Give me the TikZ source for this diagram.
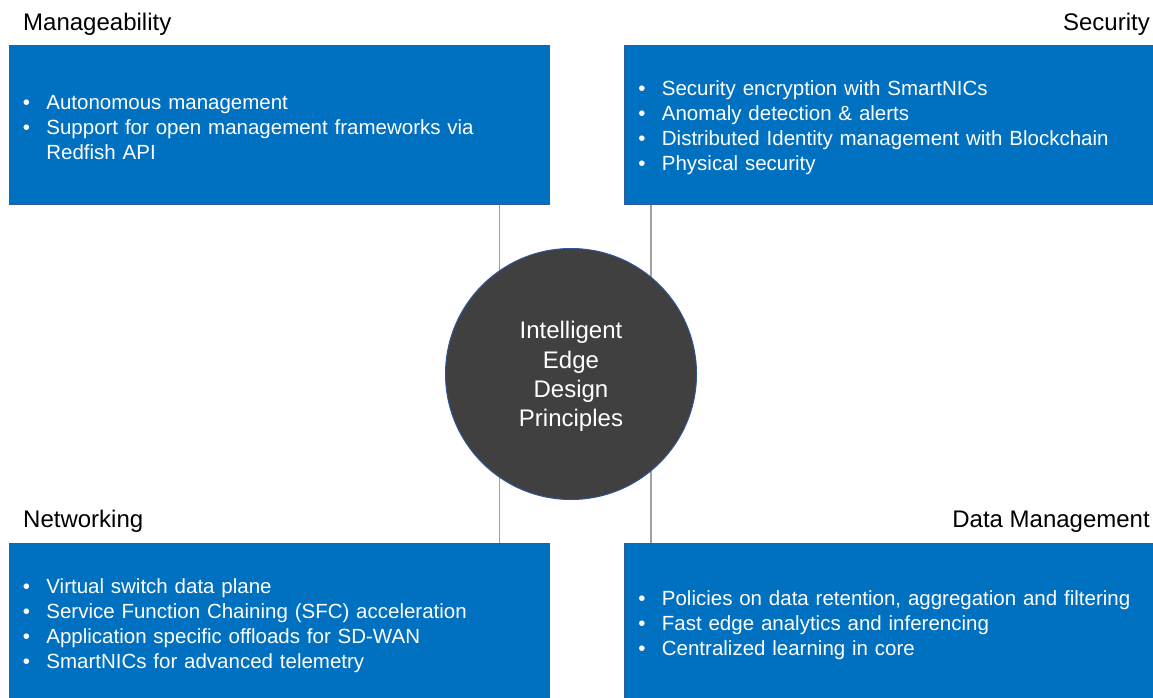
\documentclass[tikz,border=0pt]{standalone}
\usepackage{fontspec}
\setmainfont{Liberation Sans}
\definecolor{boxblue}{HTML}{0070C0}
\definecolor{boxedge}{HTML}{2F5B96}
\definecolor{circfill}{HTML}{404040}
\definecolor{circedge}{HTML}{2F5597}
\definecolor{linegray}{HTML}{A0A0A0}
\newcommand{\bul}{\makebox[23.5pt][l]{•}}
\newcommand{\fbul}{\rule{0pt}{20pt}\makebox[23.5pt][l]{•}}
\newcommand{\cont}{\hspace*{23.5pt}}
\tikzset{
  pbox/.style={rectangle, fill=boxblue, draw=boxedge, line width=0.8pt,
    anchor=north west, minimum height=159pt, inner ysep=0pt,
    text=white, align=left, font=\fontsize{20.5}{25}\selectfont},
  leftbox/.style={pbox, minimum width=540pt, text width=513pt, inner xsep=13.5pt},
  rightbox/.style={pbox, minimum width=536pt, text width=508pt, inner xsep=14pt},
  title/.style={inner sep=0pt, font=\fontsize{24}{29}\selectfont, text=black},
  hub/.style={circle, fill=circfill, draw=circedge, line width=1pt,
    minimum size=251pt, inner sep=0pt, text=white, align=center,
    font=\fontsize{24}{29.3}\selectfont},
  vline/.style={draw=linegray, line width=1.3pt}
}
\begin{document}
\begin{tikzpicture}[x=1pt, y=-1pt]
\clip (0,0) rectangle (1153,698);
\fill[white] (0,0) rectangle (1153,698);

\node[leftbox] (mgmt) at (9,45) {\fbul Autonomous management\\
\bul Support for open management frameworks via\\
\cont Redfish API};
\node[rightbox] (sec) at (624,45) {\fbul Security encryption with SmartNICs\\
\bul Anomaly detection \& alerts\\
\bul Distributed Identity management with Blockchain\\
\bul Physical security};
\node[leftbox] (net) at (9,543) {\fbul Virtual switch data plane\\
\bul Service Function Chaining (SFC) acceleration\\
\bul Application specific offloads for SD-WAN\\
\bul SmartNICs for advanced telemetry};
\node[rightbox] (data) at (624,543) {\fbul Policies on data retention, aggregation and filtering\\
\bul Fast edge analytics and inferencing\\
\bul Centralized learning in core};

\path (mgmt.south east) ++(-50,0) coordinate (la);
\path (sec.south west) ++(27,0) coordinate (ra);
\draw[vline] (la) -- (la |- net.north);
\draw[vline] (ra) -- (ra |- data.north);

\node[hub] (core) at (571,374) {\rule{0pt}{22.5pt}Intelligent\\Edge\\Design\\Principles};

\node[title, anchor=base west] (tmgmt) at (23,30.5) {Manageability};
\node[title, anchor=base east] (tsec) at (1150,30.5) {Security};
\node[title, anchor=base west] (tnet) at (23,527) {Networking};
\node[title, anchor=base east] (tdata) at (1150,527) {Data Management};
\end{tikzpicture}
\end{document}
